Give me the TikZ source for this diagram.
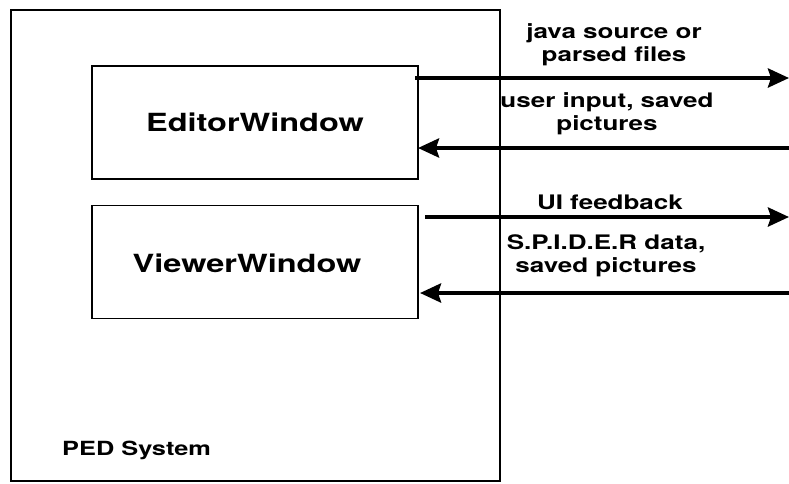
\documentclass[tikz,border=0pt]{standalone}
\usepackage{fontspec}
\setmainfont{TeX Gyre Heros}[FakeStretch=1.3]
\usetikzlibrary{arrows.meta}
\tikzset{
  thinbox/.style={draw, line width=1.3pt, rectangle, inner sep=0pt},
  winbox/.style={thinbox, minimum width=326pt, minimum height=113pt, font=\fontsize{25}{30}\selectfont\bfseries},
  lbl/.style={align=center, inner sep=0pt, font=\fontsize{20}{23}\selectfont\bfseries},
  flow/.style={line width=4pt, -{Stealth[length=21pt, width=19pt, inset=3pt]}},
}
\begin{document}
\begin{tikzpicture}[x=1pt, y=-1pt]
\useasboundingbox (0,0) rectangle (789,483);
\node[thinbox, minimum width=489pt, minimum height=471pt] (ped) at (255.5,245.5) {};
\node[winbox] (editor) at (255,122.5) {EditorWindow};
\node[winbox] (viewerbox) at (255,262) {};
\node[font=\fontsize{25}{30}\selectfont\bfseries, inner sep=0pt] (viewer) at (247,263) {ViewerWindow};
\node[font=\fontsize{19.5}{23}\selectfont\bfseries, anchor=west, inner sep=0pt] (pedlbl) at (62,450) {PED System};

\coordinate (a1s) at (415,78);
\coordinate (a1e) at (789,78);
\coordinate (a2s) at (789,148);
\coordinate (a2e) at (418,148);
\coordinate (a3s) at (425,217);
\coordinate (a3e) at (789,217);
\coordinate (a4s) at (789,293);
\coordinate (a4e) at (420,293);

\draw[flow] (a1s) -- (a1e);
\draw[flow] (a2s) -- (a2e);
\draw[flow] (a3s) -- (a3e);
\draw[flow] (a4s) -- (a4e);

\node[lbl] (l1) at (614,45) {java source or\\parsed files};
\node[lbl] (l2) at (607,114) {user input, saved\\pictures};
\node[lbl] (l3) at (610,202) {UI feedback};
\node[lbl] (l4) at (606,256) {S.P.I.D.E.R data,\\saved pictures};
\end{tikzpicture}
\end{document}
